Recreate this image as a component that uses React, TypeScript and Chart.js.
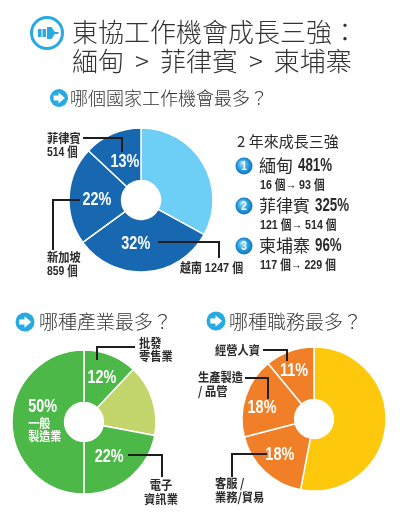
import React, { useEffect, useRef } from "react";
import { Chart, registerables } from "chart.js";

Chart.register(...registerables);

const PAGE_W = 410;
const PAGE_H = 526;

// ---------------- data ----------------
const titleLines = ["東協工作機會成長三強：", "緬甸 > 菲律賓 > 柬埔寨"];
const headingCountry = "哪個國家工作機會最多？";
const headingIndustry = "哪種產業最多？";
const headingJob = "哪種職務最多？";
const growthHeading = "2 年來成長三強";

const countryLabels = ["其他國家", "越南", "新加坡", "菲律賓"];
const countryShares = [33, 32, 22, 13];
const countryJobs = [0, 1247, 859, 514];

const industryLabels = ["批發\n零售業", "其他產業", "電子\n資訊業", "一般\n製造業"];
const industryShares = [12, 16, 22, 50];

const jobLabels = ["其他職務", "客服 /\n業務/貿易", "生產製造\n/ 品管", "經營人資"];
const jobShares = [53, 18, 18, 11];

const growthCountries = ["緬甸", "菲律賓", "柬埔寨"];
const growthRates = [481, 325, 96];
const growthFrom = [16, 121, 117];
const growthTo = [93, 514, 229];

// ---------------- styles ----------------
const CJK = '"Noto Sans CJK TC", "Noto Sans CJK SC", "Noto Sans", sans-serif';
const NUM = '"Liberation Sans", Arial, "Noto Sans CJK TC", sans-serif';
const TEXT = "#2a2a2a";
const ICON_BLUE = "#27a9e1";

const countryColors = ["#6dcff6", "#1767b1", "#1767b1", "#1767b1"];
const industryColors = ["#4cb848", "#c3d66b", "#4cb848", "#4cb848"];
const jobColors = ["#fec80d", "#f07f27", "#f07f27", "#f07f27"];

type TextLine = { text: string; font: string; sx: number };

type Callout = {
  slice: number;
  lines: TextLine[];
  x: number;
  ys: number[];
  align: CanvasTextAlign;
  path: [number, number][];
};

type PieSpec = {
  labels: string[];
  values: number[];
  colors: string[];
  center: [number, number];
  radius: number;
  cutout: string;
  labelFrac: number;
  showPct: boolean[];
  shift: [number, number][];
  callouts: Callout[];
  innerText?: { slice: number; dx: number; lines: string[] };
  extra?: (ctx: CanvasRenderingContext2D) => void;
};

function splitLines(s: string) {
  return s.split("\n");
}

// draws text horizontally condensed by sx (simulates a condensed typeface)
function fillScaled(ctx: CanvasRenderingContext2D, text: string, x: number, y: number, sx: number) {
  ctx.save();
  ctx.translate(x, y);
  ctx.scale(sx, 1);
  ctx.fillText(text, 0, 0);
  ctx.restore();
}

function arrowIcon(ctx: CanvasRenderingContext2D, x: number, y: number, r: number) {
  ctx.save();
  ctx.fillStyle = ICON_BLUE;
  ctx.beginPath();
  ctx.arc(x, y, r, 0, Math.PI * 2);
  ctx.fill();
  ctx.fillStyle = "#fff";
  ctx.fillRect(x - 0.6 * r, y - 0.27 * r, 0.62 * r, 0.54 * r);
  ctx.beginPath();
  ctx.moveTo(x - 0.05 * r, y - 0.6 * r);
  ctx.lineTo(x + 0.65 * r, y);
  ctx.lineTo(x - 0.05 * r, y + 0.6 * r);
  ctx.closePath();
  ctx.fill();
  ctx.restore();
}

function plugIcon(ctx: CanvasRenderingContext2D, x: number, y: number) {
  ctx.save();
  ctx.strokeStyle = ICON_BLUE;
  ctx.lineWidth = 3;
  ctx.fillStyle = "#fff";
  ctx.beginPath();
  ctx.arc(x, y, 15.5, 0, Math.PI * 2);
  ctx.fill();
  ctx.stroke();
  ctx.fillStyle = ICON_BLUE;
  ctx.fillRect(x - 9, y - 4, 3.5, 8);
  ctx.fillRect(x - 4.5, y - 4, 3.5, 8);
  ctx.beginPath();
  ctx.moveTo(x, y - 6);
  ctx.lineTo(x + 4.5, y - 6);
  ctx.lineTo(x + 8.5, y);
  ctx.lineTo(x + 4.5, y + 6);
  ctx.lineTo(x, y + 6);
  ctx.closePath();
  ctx.fill();
  ctx.fillRect(x + 8, y - 1, 3.5, 2);
  ctx.restore();
}

function numberBadge(ctx: CanvasRenderingContext2D, x: number, y: number, n: number) {
  ctx.save();
  const g = ctx.createRadialGradient(x - 2, y - 3, 1, x, y, 9);
  g.addColorStop(0, "#8fd8f7");
  g.addColorStop(0.55, "#2b9ee0");
  g.addColorStop(1, "#0b6fbd");
  ctx.fillStyle = g;
  ctx.beginPath();
  ctx.arc(x, y, 8.5, 0, Math.PI * 2);
  ctx.fill();
  ctx.fillStyle = "#fff";
  ctx.font = `bold 12px ${NUM}`;
  ctx.textAlign = "center";
  ctx.textBaseline = "middle";
  fillScaled(ctx, String(n), x, y + 0.5, 0.85);
  ctx.restore();
}

function drawStatic(ctx: CanvasRenderingContext2D) {
  ctx.save();
  ctx.textBaseline = "middle";
  ctx.textAlign = "left";
  // title
  plugIcon(ctx, 47, 33);
  ctx.fillStyle = "#333";
  ctx.font = `300 26px ${CJK}`;
  ctx.fillText(titleLines[0], 72, 32);
  // second line: words spaced like the original
  let x = 72;
  titleLines[1].split(" ").forEach((part) => {
    ctx.fillText(part, x, 61);
    x += ctx.measureText(part).width + 11;
  });
  // subheadings
  arrowIcon(ctx, 59, 98, 9);
  ctx.font = `300 18px ${CJK}`;
  ctx.fillText(headingCountry, 70, 98);
  arrowIcon(ctx, 25, 322, 9.5);
  ctx.font = `300 19px ${CJK}`;
  ctx.fillText(headingIndustry, 39, 322);
  arrowIcon(ctx, 216, 321, 9.5);
  ctx.fillText(headingJob, 229, 322);
  // growth block
  ctx.fillStyle = TEXT;
  ctx.font = `15px ${CJK}`;
  ctx.fillText(growthHeading, 237, 141);
  for (let i = 0; i < growthCountries.length; i++) {
    const y = 166 + i * 40;
    numberBadge(ctx, 244, y, i + 1);
    ctx.fillStyle = TEXT;
    ctx.font = `17px ${CJK}`;
    ctx.fillText(growthCountries[i], 259, y);
    const w = ctx.measureText(growthCountries[i]).width;
    ctx.font = `bold 18px ${NUM}`;
    fillScaled(ctx, `${growthRates[i]}%`, 259 + w + 5, y + 0.5, 0.74);
    ctx.font = `bold 13px ${NUM}`;
    fillScaled(ctx, `${growthFrom[i]} 個→ ${growthTo[i]} 個`, 260, y + 19, 0.82);
  }
  ctx.restore();
}

function piePlugin(spec: PieSpec) {
  return {
    id: "pieLabels",
    afterDatasetsDraw(chart: any) {
      const ctx: CanvasRenderingContext2D = chart.ctx;
      const meta = chart.getDatasetMeta(0);
      ctx.save();
      ctx.textBaseline = "middle";
      // percentage labels
      meta.data.forEach((arc: any, i: number) => {
        const p = arc.getProps(["x", "y", "startAngle", "endAngle", "innerRadius", "outerRadius"], true);
        const a = (p.startAngle + p.endAngle) / 2;
        const r = p.innerRadius + spec.labelFrac * (p.outerRadius - p.innerRadius);
        const lx = p.x + r * Math.cos(a) + spec.shift[i][0];
        const ly = p.y + r * Math.sin(a) + spec.shift[i][1];
        if (spec.innerText && spec.innerText.slice === i) {
          const it = spec.innerText;
          ctx.fillStyle = "#fff";
          ctx.textAlign = "left";
          ctx.font = `bold 19px ${NUM}`;
          fillScaled(ctx, `${spec.values[i]}%`, lx + it.dx, ly - 15, 0.76);
          ctx.font = `bold 12px ${CJK}`;
          it.lines.forEach((t, k) => fillScaled(ctx, t, lx + it.dx, ly + 1 + k * 13.5, 0.92));
          return;
        }
        if (!spec.showPct[i]) return;
        ctx.fillStyle = "#fff";
        ctx.textAlign = "center";
        ctx.font = `bold 19px ${NUM}`;
        fillScaled(ctx, `${spec.values[i]}%`, lx, ly, 0.76);
      });
      // callouts
      ctx.strokeStyle = "#1e1e1e";
      ctx.lineWidth = 2;
      ctx.lineJoin = "miter";
      spec.callouts.forEach((c) => {
        ctx.beginPath();
        c.path.forEach(([x, y], k) => (k === 0 ? ctx.moveTo(x, y) : ctx.lineTo(x, y)));
        ctx.stroke();
        ctx.fillStyle = TEXT;
        ctx.textAlign = c.align;
        c.lines.forEach((ln, k) => {
          ctx.font = ln.font;
          fillScaled(ctx, ln.text, c.x, c.ys[k], ln.sx);
        });
      });
      ctx.restore();
      if (spec.extra) spec.extra(ctx);
    },
  };
}

const CALL_CJK = `bold 12.5px ${CJK}`;
const CALL_NUM = `bold 13px ${NUM}`;
const cj = (t: string): TextLine => ({ text: t, font: CALL_CJK, sx: 0.9 });
const nm = (t: string, sx = 0.8): TextLine => ({ text: t, font: CALL_NUM, sx });

const countrySpec: PieSpec = {
  labels: countryLabels,
  values: countryShares,
  colors: countryColors,
  center: [141, 200],
  radius: 72,
  cutout: "27%",
  labelFrac: 0.47,
  showPct: [false, true, true, true],
  shift: [[0, 0], [-8, 0], [0, 3], [1.5, 2]],
  callouts: [
    {
      slice: 3,
      lines: [cj(countryLabels[3]), nm(`${countryJobs[3]} 個`)],
      x: 47,
      ys: [138, 152],
      align: "left",
      path: [[83, 138], [122, 138], [122, 152]],
    },
    {
      slice: 2,
      lines: [cj(countryLabels[2]), nm(`${countryJobs[2]} 個`)],
      x: 47,
      ys: [257, 271],
      align: "left",
      path: [[80, 200], [53, 200], [53, 250]],
    },
    {
      slice: 1,
      lines: [nm(`${countryLabels[1]} ${countryJobs[1]} 個`, 0.84)],
      x: 180,
      ys: [268],
      align: "left",
      path: [[158, 242], [219, 242], [219, 258]],
    },
  ],
  extra: drawStatic,
};

const industrySpec: PieSpec = {
  labels: industryLabels,
  values: industryShares,
  colors: industryColors,
  center: [84, 422],
  radius: 72,
  cutout: "27%",
  labelFrac: 0.5,
  showPct: [true, false, true, true],
  shift: [[1, -2], [0, 0], [-4, 0], [0, 0]],
  innerText: { slice: 3, dx: -10, lines: splitLines(industryLabels[3]) },
  callouts: [
    {
      slice: 0,
      lines: splitLines(industryLabels[0]).map(cj),
      x: 139,
      ys: [343, 356],
      align: "left",
      path: [[135, 347], [97, 347], [97, 360]],
    },
    {
      slice: 2,
      lines: splitLines(industryLabels[2]).map(cj),
      x: 161,
      ys: [485, 499],
      align: "center",
      path: [[128, 455], [162, 455], [162, 477]],
    },
  ],
};

const jobSpec: PieSpec = {
  labels: jobLabels,
  values: jobShares,
  colors: jobColors,
  center: [314, 419],
  radius: 72,
  cutout: "27%",
  labelFrac: 0.58,
  showPct: [false, true, true, true],
  shift: [[0, 0], [0, -1], [-4.5, 4.5], [-3, -1]],
  callouts: [
    {
      slice: 3,
      lines: [cj(jobLabels[3])],
      x: 260,
      ys: [350],
      align: "right",
      path: [[263, 350], [287, 350], [287, 361]],
    },
    {
      slice: 2,
      lines: splitLines(jobLabels[2]).map(cj),
      x: 198,
      ys: [377, 391],
      align: "left",
      path: [[245, 378], [268, 378], [268, 399]],
    },
    {
      slice: 1,
      lines: splitLines(jobLabels[1]).map(cj),
      x: 215,
      ys: [483, 497],
      align: "left",
      path: [[267, 454], [232, 454], [232, 477]],
    },
  ],
};

function makeConfig(spec: PieSpec): any {
  const [cx, cy] = spec.center;
  const half = spec.radius + 2;
  return {
    type: "doughnut",
    data: {
      labels: spec.labels,
      datasets: [
        {
          data: spec.values,
          backgroundColor: spec.colors,
          borderColor: "#ffffff",
          borderWidth: 1.5,
        },
      ],
    },
    options: {
      responsive: false,
      animation: false,
      events: [],
      radius: spec.radius,
      cutout: spec.cutout,
      layout: {
        padding: {
          left: cx - half,
          right: PAGE_W - cx - half,
          top: cy - half,
          bottom: PAGE_H - cy - half,
        },
      },
      plugins: { legend: { display: false }, tooltip: { enabled: false } },
    },
    plugins: [piePlugin(spec)],
  };
}

export default function App() {
  const c1 = useRef<HTMLCanvasElement>(null);
  const c2 = useRef<HTMLCanvasElement>(null);
  const c3 = useRef<HTMLCanvasElement>(null);

  useEffect(() => {
    const charts = [
      new Chart(c1.current!, makeConfig(countrySpec)),
      new Chart(c2.current!, makeConfig(industrySpec)),
      new Chart(c3.current!, makeConfig(jobSpec)),
    ];
    return () => charts.forEach((c) => c.destroy());
  }, []);

  const cs: React.CSSProperties = { position: "absolute", left: 0, top: 0, width: PAGE_W, height: PAGE_H };
  return (
    <div style={{ position: "absolute", left: 0, top: 0, width: PAGE_W, height: PAGE_H, background: "#fff", overflow: "hidden" }}>
      <canvas ref={c1} width={PAGE_W} height={PAGE_H} style={cs} />
      <canvas ref={c2} width={PAGE_W} height={PAGE_H} style={cs} />
      <canvas ref={c3} width={PAGE_W} height={PAGE_H} style={cs} />
    </div>
  );
}
